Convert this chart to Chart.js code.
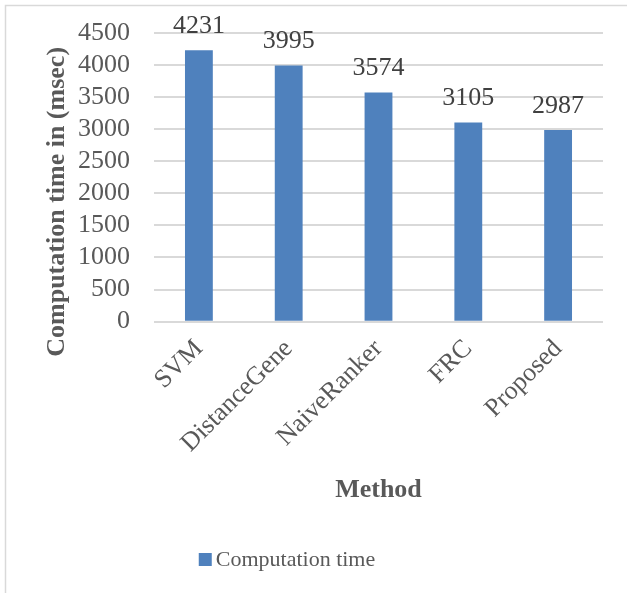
<!DOCTYPE html>
<html>
<head>
<meta charset="utf-8">
<script src="https://cdn.jsdelivr.net/npm/chart.js@4/dist/chart.umd.min.js"></script>
<style>
  html, body { margin: 0; padding: 0; background: #ffffff; }
  #wrap { width: 627px; height: 593px; }
</style>
</head>
<body>
<div id="wrap"><canvas id="c" width="627" height="593"></canvas></div>
<script>
// Method names and measured computation time (msec)
const methods = ['SVM', 'DistanceGene', 'NaiveRanker', 'FRC', 'Proposed'];
const computationTime = [4231, 3995, 3574, 3105, 2987];
const seriesName = 'Computation time';
const yTicks = [0, 500, 1000, 1500, 2000, 2500, 3000, 3500, 4000, 4500];
const yTitle = 'Computation time in (msec)';
const xTitle = 'Method';

const serif = '"Liberation Serif", "Times New Roman", serif';
const barBlue = '#4f81bd';
const textGrey = '#595959';

// Light frame around the whole chart
const framePlugin = {
  id: 'frame',
  beforeDraw(chart) {
    const ctx = chart.ctx;
    ctx.save();
    ctx.fillStyle = '#ffffff';
    ctx.fillRect(0, 0, chart.width, chart.height);
    ctx.strokeStyle = '#d9d9d9';
    ctx.lineWidth = 1.5;
    ctx.strokeRect(5.5, 5.5, chart.width + 20, chart.height + 20);
    ctx.restore();
  }
};

// Value written above each bar, the vertical axis title and the legend entry
const annotations = {
  id: 'annotations',
  afterDatasetsDraw(chart) {
    const ctx = chart.ctx;
    const ds = chart.data.datasets[0];
    const meta = chart.getDatasetMeta(0);
    ctx.save();
    ctx.font = '26px ' + serif;
    ctx.fillStyle = '#404040';
    ctx.textAlign = 'center';
    ctx.textBaseline = 'alphabetic';
    meta.data.forEach((bar, i) => {
      ctx.fillText(String(ds.data[i]), bar.x, bar.y - 17);
    });
    ctx.restore();

    // y-axis title, rotated, set slightly below the plot centre
    const area = chart.chartArea;
    ctx.save();
    ctx.translate(57, area.top + (area.bottom - area.top) * 0.585);
    ctx.rotate(-Math.PI / 2);
    ctx.font = 'bold 26px ' + serif;
    ctx.fillStyle = textGrey;
    ctx.textAlign = 'center';
    ctx.textBaseline = 'middle';
    ctx.fillText(yTitle, 0, 0);
    ctx.restore();

    // legend: coloured square followed by the series name
    ctx.save();
    ctx.font = '22px ' + serif;
    const label = ds.label;
    const boxSize = 13;
    const gap = 4;
    const total = boxSize + gap + ctx.measureText(label).width;
    const startX = 287 - total / 2;
    const baseY = 566;
    ctx.fillStyle = ds.backgroundColor;
    ctx.fillRect(startX, baseY - boxSize, boxSize, boxSize);
    ctx.fillStyle = textGrey;
    ctx.textAlign = 'left';
    ctx.textBaseline = 'alphabetic';
    ctx.fillText(label, startX + boxSize + gap, baseY);
    ctx.restore();
  }
};

new Chart(document.getElementById('c'), {
  type: 'bar',
  data: {
    labels: methods,
    datasets: [{
      label: seriesName,
      data: computationTime,
      backgroundColor: barBlue,
      borderWidth: 0,
      categoryPercentage: 1,
      barPercentage: 0.31
    }]
  },
  options: {
    responsive: false,
    animation: false,
    devicePixelRatio: 1,
    layout: { padding: { top: 33, right: 24, left: 54, bottom: 87 } },
    plugins: {
      tooltip: { enabled: false },
      legend: { display: false }
    },
    scales: {
      x: {
        grid: { display: false },
        border: { display: false },
        afterFit(scale) { scale.paddingLeft = 0; scale.paddingRight = 0; },
        ticks: {
          minRotation: 45,
          maxRotation: 45,
          autoSkip: false,
          font: { family: serif, size: 26 },
          color: textGrey,
          padding: 4
        },
        title: {
          display: true,
          text: xTitle,
          font: { family: serif, size: 26, weight: 'bold' },
          color: textGrey,
          padding: { top: 12, bottom: 0 }
        }
      },
      y: {
        min: 0,
        max: 4500,
        afterBuildTicks(axis) { axis.ticks = yTicks.map(v => ({ value: v })); },
        afterFit(scale) { scale.paddingTop = 0; scale.paddingBottom = 0; },
        grid: { color: '#d9d9d9', lineWidth: 2, drawTicks: false },
        border: { display: false },
        ticks: {
          autoSkip: false,
          font: { family: serif, size: 26 },
          color: textGrey,
          padding: 24,
          callback: v => String(v)
        }
      }
    }
  },
  plugins: [framePlugin, annotations]
});
</script>
</body>
</html>
